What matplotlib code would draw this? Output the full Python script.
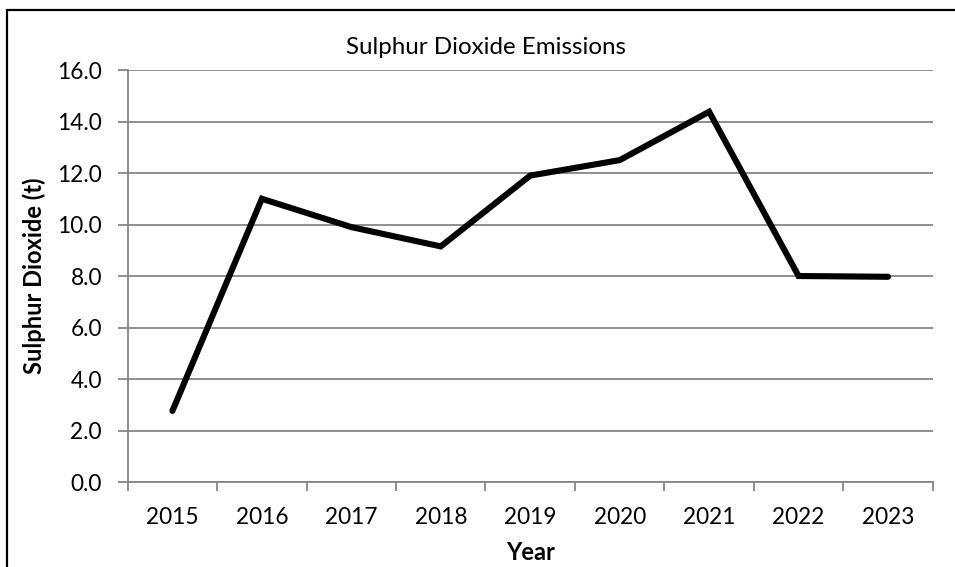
import matplotlib as mpl
mpl.use("Agg")
import matplotlib.pyplot as plt
import numpy as np
from matplotlib.patches import Rectangle

years = ["2015", "2016", "2017", "2018", "2019", "2020", "2021", "2022", "2023"]
so2_t = [2.76, 11.0, 9.9, 9.15, 11.9, 12.5, 14.38, 8.0, 7.97]

GRID = "#868686"
plt.rcParams["font.family"] = ["Lato", "DejaVu Sans"]

fig = plt.figure(figsize=(9.55, 5.67), dpi=100)
ax = fig.add_axes([0.1337, 0.1499, 0.8430, 0.7266])

x = np.arange(len(years))
ax.plot(x, so2_t, color="black", lw=4.4, solid_joinstyle="miter",
        solid_capstyle="round", zorder=3)

ax.set_xlim(-0.5, len(years) - 0.5)
ax.set_ylim(0, 16)
ax.set_yticks(np.arange(0, 16.1, 2))
ax.set_yticklabels([f"{v:.1f}" for v in np.arange(0, 16.1, 2)])
ax.yaxis.grid(True, color=GRID, lw=1.3)
ax.set_axisbelow(True)

# category boundaries get the tick marks, labels sit between them
ax.set_xticks(np.arange(-0.5, len(years), 1.0))
ax.set_xticklabels([])
ax.set_xticks(x, minor=True)
ax.set_xticklabels(years, minor=True)
ax.tick_params(axis="x", which="major", length=6.3, width=1.3, color=GRID)
ax.tick_params(axis="x", which="minor", length=0, pad=18, labelsize=16.3)
ax.tick_params(axis="y", length=7, width=1.3, color=GRID, labelsize=16.3,
               pad=11.5)

for side in ("top", "right"):
    ax.spines[side].set_visible(False)
for side in ("left", "bottom"):
    ax.spines[side].set_color(GRID)
    ax.spines[side].set_linewidth(1.3)

ax.set_ylabel("Sulphur Dioxide (t)", fontsize=17, fontweight="bold", va="center")
ax.yaxis.set_label_coords(-0.1164, 0.5)
ax.set_xlabel("Year", fontsize=17, fontweight="bold", va="center")
ax.xaxis.set_label_coords(0.5, -0.172)
fig.text(0.509, 0.917, "Sulphur Dioxide Emissions", ha="center", va="center",
         fontsize=17.4)

# chart frame running off the bottom-right edge
fig.add_artist(Rectangle((7 / 955, -0.1), 1.1, 1.1 - 10 / 567,
                         transform=fig.transFigure, fill=False,
                         ec="black", lw=1.6, clip_on=False))

fig.savefig("out.png", dpi=100)
